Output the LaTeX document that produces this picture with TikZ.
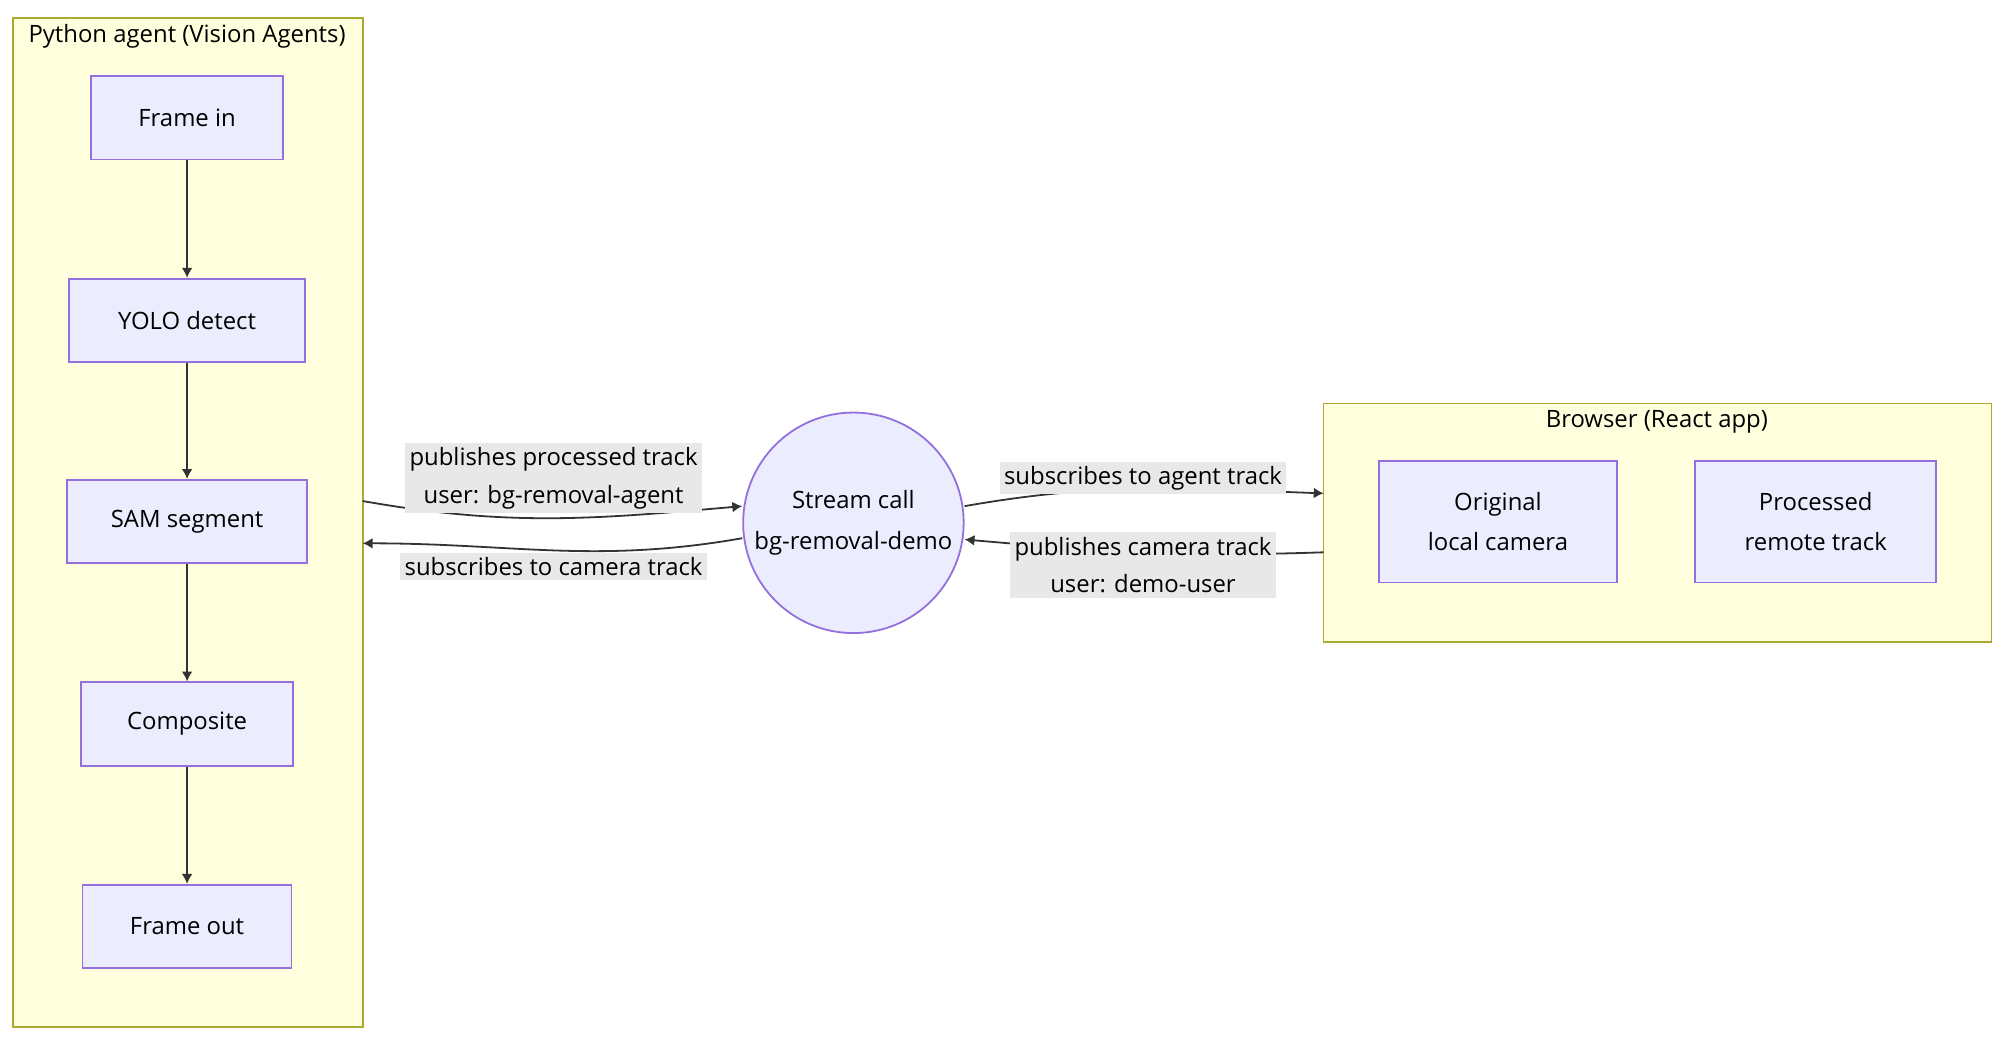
\documentclass[tikz,border=0pt]{standalone}
\usepackage{fontspec}
\setmainfont{Open Sans}
\usetikzlibrary{arrows.meta, positioning, fit}
\definecolor{boxfill}{HTML}{ECECFF}
\definecolor{boxline}{HTML}{9370DB}
\definecolor{grpfill}{HTML}{FFFFDE}
\definecolor{grpline}{HTML}{AAAA33}
\definecolor{lblfill}{HTML}{E8E8E8}
\definecolor{wirecol}{HTML}{333333}
\tikzset{
    stage/.style={
        rectangle,
        draw=boxline,
        fill=boxfill,
        line width=0.4pt,
        minimum height=0.65cm,
        font=\fontsize{5.3}{7}\selectfont
    },
    group/.style={
        rectangle,
        draw=grpline,
        fill=grpfill,
        line width=0.4pt
    },
    link/.style={
        draw=wirecol,
        line width=0.4pt,
        -{Latex[length=2.2pt,width=2.4pt]}
    },
    tag/.style={
        fill=lblfill,
        inner sep=1pt,
        align=center,
        font=\fontsize{5.3}{8.4}\selectfont
    }
}
\begin{document}
\begin{tikzpicture}[x=0.01cm, y=-0.01cm]
\useasboundingbox (0,0) rectangle (1560,815);

% Groups
\node[group, minimum width=2.73cm, minimum height=7.87cm] (agent) at (146.5,407.5) {};
\node[font=\fontsize{5.3}{7}\selectfont] at (146,28) {Python agent (Vision Agents)};
\node[group, minimum width=5.21cm, minimum height=1.86cm] (browser) at (1293.5,408) {};
\node[font=\fontsize{5.3}{7}\selectfont] at (1293,329) {Browser (React app)};

% Pipeline
\node[stage, minimum width=1.5cm] (fin) at (146,92) {Frame in};
\node[stage, minimum width=1.84cm] (yolo) at (146,250) {YOLO detect};
\node[stage, minimum width=1.87cm] (sam) at (146,407) {SAM segment};
\node[stage, minimum width=1.65cm] (comp) at (146,565) {Composite};
\node[stage, minimum width=1.63cm] (fout) at (146,723) {Frame out};

\draw[link] (fin) -- (yolo);
\draw[link] (yolo) -- (sam);
\draw[link] (sam) -- (comp);
\draw[link] (comp) -- (fout);

% Call
\node[stage, circle, minimum size=1.72cm, inner sep=0pt, align=center] (call) at (666,408) {Stream call\\[2pt]bg-removal-demo};

% Browser tracks
\node[stage, minimum width=1.86cm, minimum height=0.95cm, align=center] (orig) at (1169,407) {Original\\[2pt]local camera};
\node[stage, minimum width=1.88cm, minimum height=0.95cm, align=center] (proc) at (1417,407) {Processed\\[2pt]remote track};

% Links
\coordinate (aout) at (283,391);
\coordinate (ain) at (283,424);
\coordinate (bin) at (1033,385);
\coordinate (bout) at (1033,431);
\draw[link] (aout) to[out=-10,in=185] (call.west |- 0,395);
\node[tag] at (432,373) {publishes processed track\\user: bg-removal-agent};
\draw[link] (call.west |- 0,420) to[out=190,in=0] (ain);
\node[tag] at (432,442) {subscribes to camera track};
\draw[link] (call.east |- 0,395) to[out=10,in=178] (bin);
\node[tag] at (892,373) {subscribes to agent track};
\draw[link] (bout) to[out=182,in=-5] (call.east |- 0,421);
\node[tag] at (892,441) {publishes camera track\\user: demo-user};
\end{tikzpicture}
\end{document}
